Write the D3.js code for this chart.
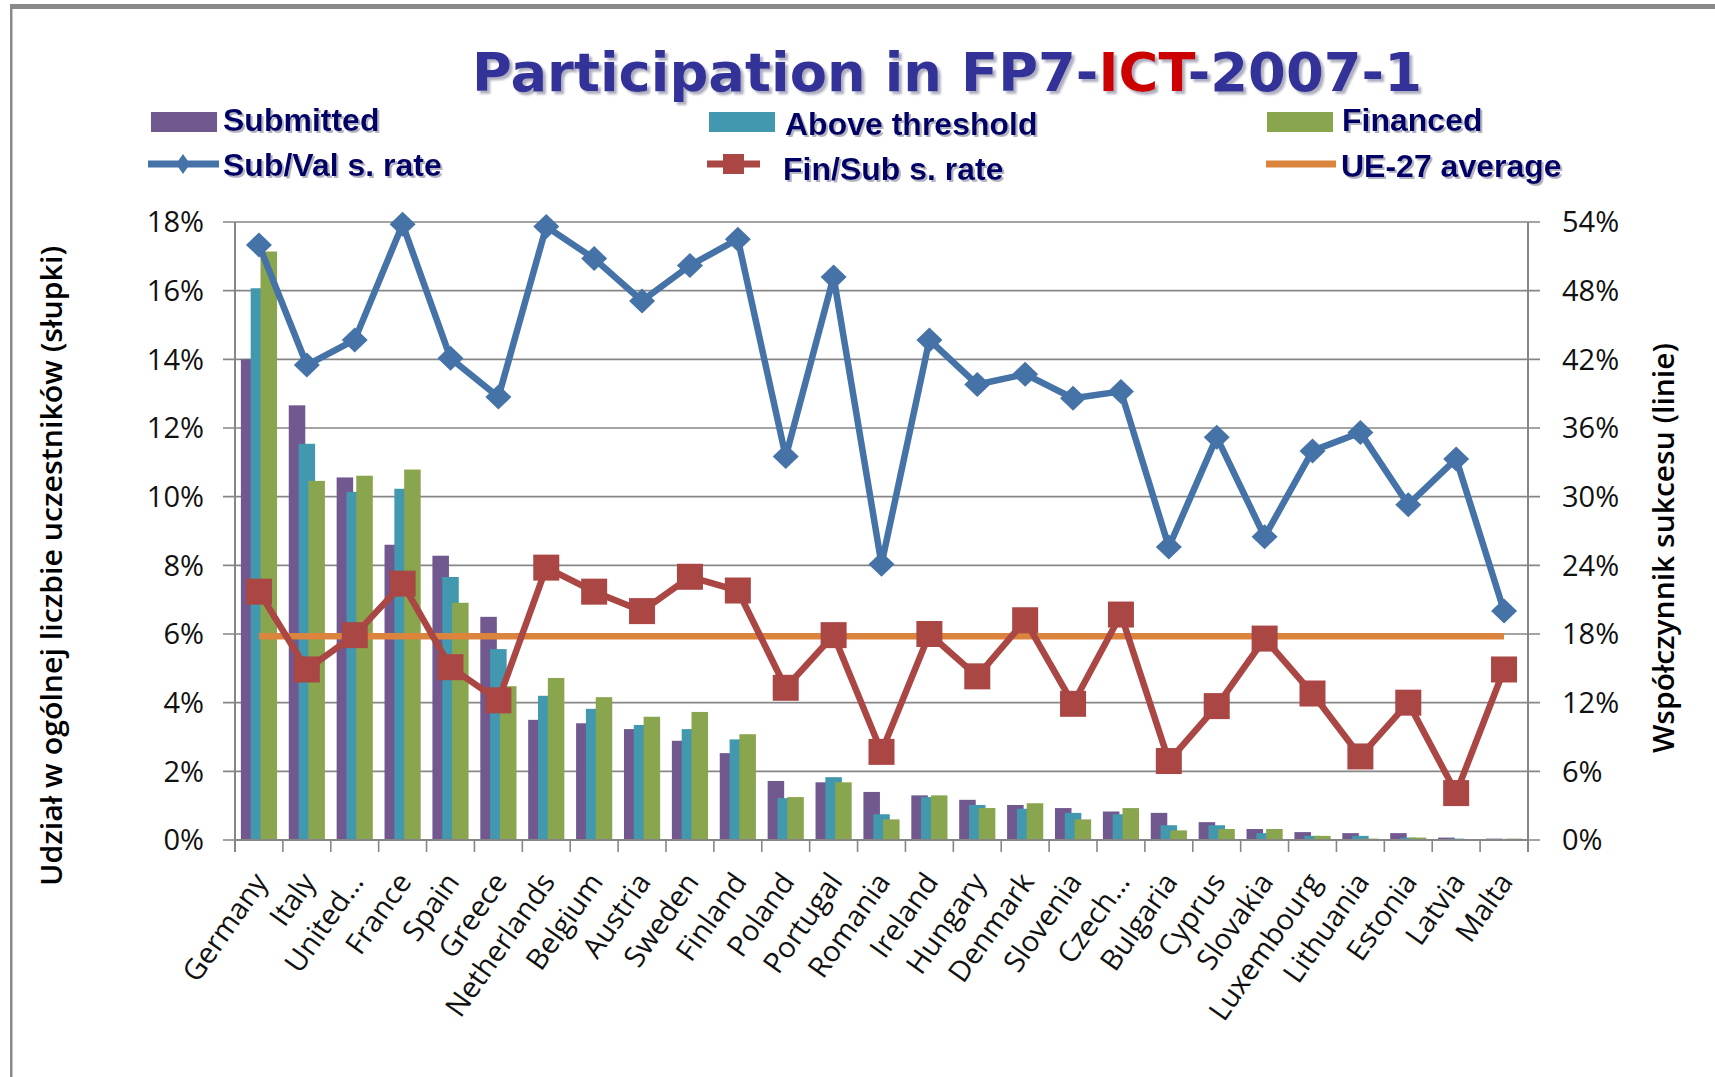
<!DOCTYPE html>
<html>
<head>
<meta charset="utf-8">
<script src="https://cdn.jsdelivr.net/npm/d3@7"></script>
<style>
  html, body { margin: 0; padding: 0; background: #ffffff; }
  svg { display: block; }
</style>
</head>
<body>
<svg id="chart" width="1715" height="1077"></svg>
<script>
// ---------- DATA ----------
const categories = ["Germany", "Italy", "United…", "France", "Spain", "Greece", "Netherlands", "Belgium",
  "Austria", "Sweden", "Finland", "Poland", "Portugal", "Romania", "Ireland", "Hungary", "Denmark",
  "Slovenia", "Czech…", "Bulgaria", "Cyprus", "Slovakia", "Luxembourg", "Lithuania", "Estonia", "Latvia", "Malta"];

const submitted = [14.0, 12.66, 10.56, 8.60, 8.28, 6.50, 3.50, 3.40, 3.23, 2.89, 2.53, 1.72, 1.68, 1.40,
  1.30, 1.17, 1.02, 0.93, 0.83, 0.79, 0.52, 0.32, 0.23, 0.20, 0.20, 0.07, 0.04];
const aboveThreshold = [16.07, 11.54, 10.14, 10.23, 7.66, 5.56, 4.20, 3.82, 3.35, 3.23, 2.93, 1.22, 1.83, 0.75,
  1.25, 1.02, 0.91, 0.79, 0.75, 0.43, 0.43, 0.20, 0.12, 0.12, 0.07, 0.04, 0.0];
const financed = [17.14, 10.46, 10.61, 10.79, 6.91, 4.48, 4.72, 4.16, 3.59, 3.73, 3.08, 1.25, 1.68, 0.60,
  1.30, 0.93, 1.07, 0.60, 0.93, 0.28, 0.32, 0.32, 0.12, 0.04, 0.07, 0.0, 0.04];

const subValRate = [52.0, 41.5, 43.7, 53.8, 42.1, 38.7, 53.6, 50.8, 47.1, 50.2, 52.5, 33.5, 49.2, 24.1,
  43.7, 39.8, 40.7, 38.6, 39.2, 25.6, 35.2, 26.5, 34.0, 35.6, 29.3, 33.3, 20.0];
const finSubRate = [21.7, 14.9, 17.9, 22.4, 15.1, 12.2, 23.8, 21.7, 20.0, 23.0, 21.8, 13.3, 17.9, 7.7,
  18.0, 14.3, 19.2, 11.9, 19.7, 6.9, 11.7, 17.6, 12.8, 7.3, 12.0, 4.1, 14.9];
const ue27Average = 17.8;

const leftTicks = [0, 2, 4, 6, 8, 10, 12, 14, 16, 18];
const rightTicks = [0, 6, 12, 18, 24, 30, 36, 42, 48, 54];

const barSeries = ["Submitted", "Above threshold", "Financed"];
const titleParts = [["Participation in FP7-", "#333399"], ["ICT", "#CC0000"], ["-2007-1", "#333399"]];
const leftTitle = "Udział w ogólnej liczbie uczestników (słupki)";
const rightTitle = "Współczynnik sukcesu (linie)";

// ---------- STYLE ----------
const colors = {
  "Submitted": "#71588F",
  "Above threshold": "#4198AF",
  "Financed": "#89A54E",
  sub: "#4572A7",
  fin: "#AA4643",
  avg: "#DB843D"
};

const svg = d3.select("#chart");
const plot = { left: 235, right: 1528, top: 222, bottom: 840 };

const defs = svg.append("defs");
const f1 = defs.append("filter").attr("id", "tshadow").attr("x", "-5%").attr("y", "-20%").attr("width", "110%").attr("height", "150%");
f1.append("feDropShadow").attr("dx", 3).attr("dy", 3).attr("stdDeviation", 0.8)
  .attr("flood-color", "#9a9ab0").attr("flood-opacity", 0.8);
const f2 = defs.append("filter").attr("id", "lshadow").attr("x", "-5%").attr("y", "-20%").attr("width", "110%").attr("height", "150%");
f2.append("feDropShadow").attr("dx", 2).attr("dy", 2).attr("stdDeviation", 0.6)
  .attr("flood-color", "#a0a0b4").attr("flood-opacity", 0.8);

// Frame
svg.append("rect").attr("x", 0).attr("y", 0).attr("width", 1715).attr("height", 1077).attr("fill", "#fff");
svg.append("rect").attr("x", 10).attr("y", 4).attr("width", 1705).attr("height", 5).attr("fill", "#8a8a8a");
svg.append("rect").attr("x", 10).attr("y", 4).attr("width", 2.5).attr("height", 1073).attr("fill", "#8a8a8a");

// Scales
const x = d3.scaleBand().domain(categories).range([plot.left, plot.right]).paddingInner(0).paddingOuter(0);
const yL = d3.scaleLinear().domain([0, 18]).range([plot.bottom, plot.top]);
const yR = d3.scaleLinear().domain([0, 54]).range([plot.bottom, plot.top]);
const bw = x.bandwidth();
const barW = bw * 0.345;
const offs = d3.scalePoint().domain(barSeries).range([-bw * 0.205, bw * 0.205]);
const cx = c => x(c) + bw / 2;

// Gridlines
svg.append("g").selectAll("line").data(leftTicks).join("line")
  .attr("x1", plot.left - 12).attr("x2", plot.right + 12)
  .attr("y1", d => yL(d)).attr("y2", d => yL(d))
  .attr("stroke", "#868686").attr("stroke-width", 1.6);

// Bars
const seriesData = { "Submitted": submitted, "Above threshold": aboveThreshold, "Financed": financed };
barSeries.forEach(s => {
  svg.append("g").selectAll("rect").data(categories).join("rect")
    .attr("x", (c) => cx(c) + offs(s) - barW / 2)
    .attr("width", barW)
    .attr("y", (c, i) => yL(seriesData[s][i]))
    .attr("height", (c, i) => yL(0) - yL(seriesData[s][i]))
    .attr("fill", colors[s]);
});

// Axes lines
svg.append("line").attr("x1", plot.left).attr("x2", plot.left).attr("y1", plot.top).attr("y2", plot.bottom + 12)
  .attr("stroke", "#868686").attr("stroke-width", 2);
svg.append("line").attr("x1", plot.right).attr("x2", plot.right).attr("y1", plot.top).attr("y2", plot.bottom + 12)
  .attr("stroke", "#868686").attr("stroke-width", 2);
svg.append("line").attr("x1", plot.left).attr("x2", plot.right).attr("y1", plot.bottom).attr("y2", plot.bottom)
  .attr("stroke", "#868686").attr("stroke-width", 2);
svg.append("g").selectAll("line").data(categories.slice(1)).join("line")
  .attr("x1", c => x(c)).attr("x2", c => x(c))
  .attr("y1", plot.bottom).attr("y2", plot.bottom + 12)
  .attr("stroke", "#868686").attr("stroke-width", 1.6);

// Tick labels
const tickFont = "'Open Sans', sans-serif";
svg.append("g").selectAll("text").data(leftTicks).join("text")
  .attr("x", 204).attr("y", d => yL(d)).attr("dy", "0.36em")
  .attr("text-anchor", "end").attr("font-family", tickFont).attr("font-size", 29).attr("fill", "#111")
  .text(d => d + "%");
svg.append("g").selectAll("text").data(rightTicks).join("text")
  .attr("x", 1562).attr("y", d => yR(d)).attr("dy", "0.36em")
  .attr("text-anchor", "start").attr("font-family", tickFont).attr("font-size", 29).attr("fill", "#111")
  .text(d => d + "%");

// Category labels
svg.append("g").selectAll("text").data(categories).join("text")
  .attr("transform", c => `translate(${cx(c) + 10},${plot.bottom + 42}) rotate(-55)`)
  .attr("text-anchor", "end").attr("font-family", tickFont).attr("font-size", 29).attr("fill", "#111")
  .text(c => c);

// Axis titles
svg.append("text")
  .attr("transform", `translate(62,566) rotate(-90)`)
  .attr("text-anchor", "middle").attr("font-family", tickFont).attr("font-weight", 600)
  .attr("font-size", 28).attr("fill", "#000")
  .attr("textLength", 640).attr("lengthAdjust", "spacingAndGlyphs")
  .text(leftTitle);
svg.append("text")
  .attr("transform", `translate(1674,548) rotate(-90)`)
  .attr("text-anchor", "middle").attr("font-family", tickFont).attr("font-weight", 600)
  .attr("font-size", 28).attr("fill", "#000")
  .attr("textLength", 410).attr("lengthAdjust", "spacingAndGlyphs")
  .text(rightTitle);

// Lines
const lineGen = scale => d3.line().x((d, i) => cx(categories[i])).y(d => scale(d));
svg.append("path").datum(categories.map(() => ue27Average))
  .attr("d", lineGen(yR)).attr("fill", "none").attr("stroke", colors.avg).attr("stroke-width", 6.5);

svg.append("path").datum(finSubRate)
  .attr("d", lineGen(yR)).attr("fill", "none").attr("stroke", colors.fin).attr("stroke-width", 6.5)
  .attr("stroke-linejoin", "round");
svg.append("g").selectAll("rect").data(finSubRate).join("rect")
  .attr("x", (d, i) => cx(categories[i]) - 13).attr("y", d => yR(d) - 13)
  .attr("width", 26).attr("height", 26).attr("fill", colors.fin);

svg.append("path").datum(subValRate)
  .attr("d", lineGen(yR)).attr("fill", "none").attr("stroke", colors.sub).attr("stroke-width", 6.5)
  .attr("stroke-linejoin", "round");
const diamond = (cxp, cyp, rx, ry) => `M${cxp},${cyp - ry}L${cxp + rx},${cyp}L${cxp},${cyp + ry}L${cxp - rx},${cyp}Z`;
svg.append("g").selectAll("path").data(subValRate).join("path")
  .attr("d", (d, i) => diamond(cx(categories[i]), yR(d), 13, 12.5)).attr("fill", colors.sub);

// Title
const mainT = svg.append("text").attr("x", 472).attr("y", 91)
  .attr("font-family", "'DejaVu Sans', sans-serif").attr("font-weight", "bold").attr("font-size", 54)
  .attr("textLength", 950).attr("lengthAdjust", "spacingAndGlyphs").attr("filter", "url(#tshadow)");
titleParts.forEach(p => mainT.append("tspan").attr("fill", p[1]).text(p[0]));

// Legend
const legFont = "'Liberation Sans', Arial, sans-serif";
const legText = (tx, ty, t) => {
  svg.append("text").attr("x", tx).attr("y", ty).attr("font-family", legFont).attr("font-weight", "bold")
    .attr("font-size", 32).attr("fill", "#000066").attr("filter", "url(#lshadow)").text(t);
};
const legendBars = [
  { s: "Submitted", sx: 151, tx: 223, ty: 131 },
  { s: "Above threshold", sx: 709, tx: 785, ty: 135 },
  { s: "Financed", sx: 1267, tx: 1342, ty: 131 }
];
legendBars.forEach(l => {
  svg.append("rect").attr("x", l.sx).attr("y", 112).attr("width", 66).attr("height", 20).attr("fill", colors[l.s]);
  legText(l.tx, l.ty, l.s);
});
svg.append("line").attr("x1", 148).attr("x2", 219).attr("y1", 164).attr("y2", 164)
  .attr("stroke", colors.sub).attr("stroke-width", 7);
svg.append("path").attr("d", diamond(183, 164, 7, 10)).attr("fill", colors.sub);
legText(223, 176, "Sub/Val s. rate");
svg.append("line").attr("x1", 707).attr("x2", 760).attr("y1", 164).attr("y2", 164)
  .attr("stroke", colors.fin).attr("stroke-width", 7);
svg.append("rect").attr("x", 723).attr("y", 154).attr("width", 21).attr("height", 20).attr("fill", colors.fin);
legText(783, 180, "Fin/Sub s. rate");
svg.append("line").attr("x1", 1266).attr("x2", 1336).attr("y1", 164).attr("y2", 164)
  .attr("stroke", colors.avg).attr("stroke-width", 7);
legText(1341, 177, "UE-27 average");
</script>
</body>
</html>
